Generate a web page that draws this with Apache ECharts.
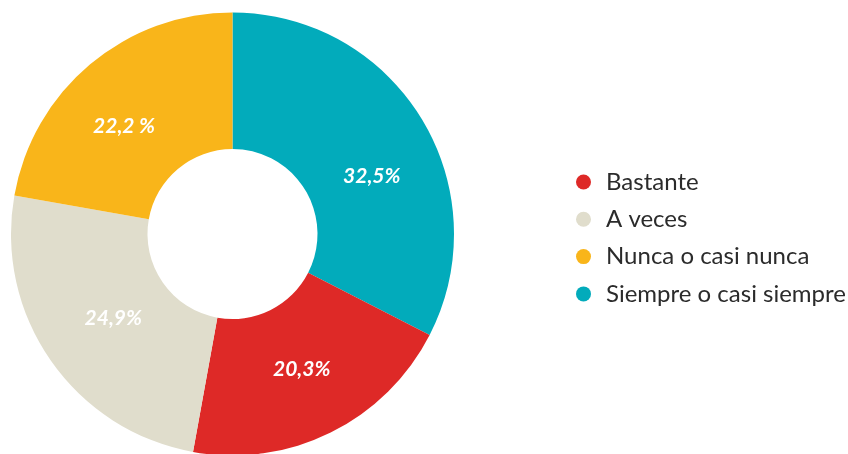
<!DOCTYPE html>
<html>
<head>
<meta charset="utf-8">
<script src="https://cdn.jsdelivr.net/npm/echarts@6/dist/echarts.min.js"></script>
<style>
  html, body { margin: 0; padding: 0; background: #ffffff; }
  #chart { width: 848px; height: 454px; }
</style>
</head>
<body>
<div id="chart"></div>
<script>
// Survey answers, in drawing order (clockwise from 12 o'clock)
const categories = ['Siempre o casi siempre', 'Bastante', 'A veces', 'Nunca o casi nunca'];
const values = [32.5, 20.3, 24.9, 22.2];
const percentSigns = ['%', '%', '%', ' %'];

// Legend order
const legendOrder = ['Bastante', 'A veces', 'Nunca o casi nunca', 'Siempre o casi siempre'];

// Slice colours
const colors = ['#02abbb', '#de2927', '#e0ddcc', '#f9b51a'];

// Fine placement of each in-slice label
const labelOffsets = [[6, 24], [0, -5], [9, -5], [-8, 12]];

const chart = echarts.init(document.getElementById('chart'), null, { renderer: 'canvas' });

chart.setOption({
  animation: false,
  backgroundColor: '#ffffff',
  legend: {
    orient: 'vertical',
    left: 571,
    top: 165,
    data: legendOrder,
    icon: 'circle',
    itemWidth: 15,
    itemHeight: 15,
    itemGap: 13.3,
    textStyle: {
      fontFamily: 'Lato',
      fontSize: 24,
      lineHeight: 23,
      color: '#2b2b2b',
      padding: [0, 0, 0, 10]
    }
  },
  series: [{
    type: 'pie',
    center: [232.5, 234],
    radius: [85, 221.5],
    startAngle: 90,
    clockwise: true,
    avoidLabelOverlap: false,
    emphasis: { disabled: true },
    label: {
      show: true,
      position: 'inside',
      color: '#ffffff',
      fontFamily: 'Lato',
      fontWeight: 'bold',
      fontStyle: 'italic',
      fontSize: 21,
      formatter: function (p) {
        return p.value.toFixed(1).replace('.', ',') + percentSigns[p.dataIndex];
      }
    },
    labelLine: { show: false },
    data: categories.map(function (name, i) {
      return {
        name: name,
        value: values[i],
        itemStyle: { color: colors[i] },
        label: { offset: labelOffsets[i] }
      };
    })
  }]
});
</script>
</body>
</html>
